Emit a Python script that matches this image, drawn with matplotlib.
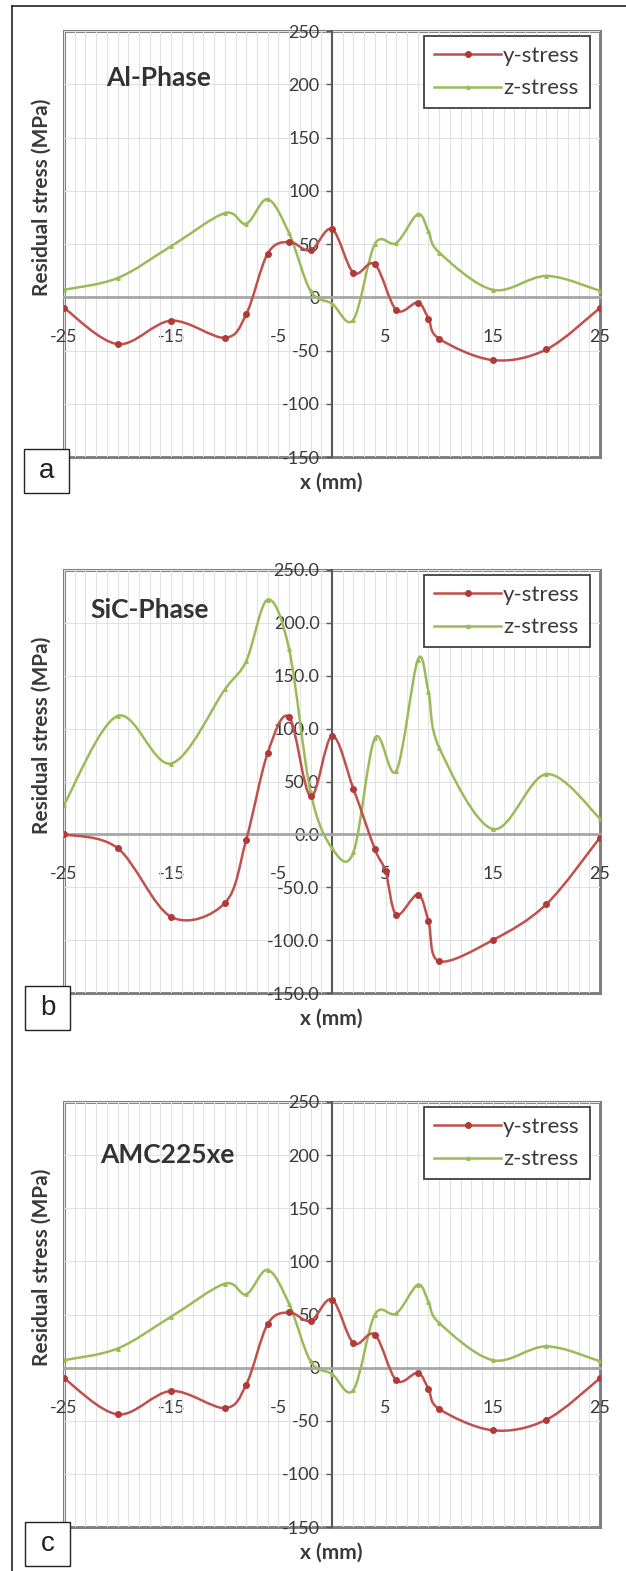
import numpy as np
import matplotlib.pyplot as plt
from matplotlib.path import Path
from matplotlib.patches import PathPatch, Rectangle
from matplotlib.lines import Line2D
from matplotlib.ticker import MultipleLocator, FormatStrFormatter

plt.rcParams['axes.unicode_minus'] = False

# measurement positions (mm)
x_pos = [-25, -20, -15, -10, -8, -6, -4, -2, 0, 2, 4, 6, 8, 9, 10, 15, 20, 25]
x_pos_sic = [-25, -20, -15, -10, -8, -6, -4, -2, 0, 2, 4, 5, 6, 8, 9, 10, 15, 20, 25]

# residual stress (MPa)
al_y = [-10, -44, -22, -38, -16, 41, 52, 44, 64, 23, 31, -12, -5, -20, -39, -59, -49, -10]
al_z = [7, 18, 48, 79, 69, 92, 60, 6, -6, -21, 50, 51, 78, 62, 42, 7, 20, 6]

sic_y = [0, -13, -78, -65, -5, 77, 111, 36, 93, 43, -14, -35, -76, -57, -82, -120, -100, -66, -3]
sic_z = [28, 112, 67, 137, 164, 222, 175, 40, -13, -17, 91, 60, 165, 135, 82, 5, 57, 15]

amc_y = [-10, -44, -22, -38, -16, 41, 52, 44, 64, 23, 31, -12, -5, -20, -39, -59, -49, -10]
amc_z = [7, 18, 48, 79, 69, 92, 60, 6, -6, -21, 50, 51, 78, 62, 42, 7, 20, 6]

panel_names = ['Al-Phase', 'SiC-Phase', 'AMC225xe']
panel_letters = ['a', 'b', 'c']
x_ticks = [-25, -15, -5, 5, 15, 25]
y_ticks = [-150, -100, -50, 0, 50, 100, 150, 200, 250]

RED = '#c0504d'
GREEN = '#9bbb59'
TXT = '#3a3a3a'


def smooth_path(x, y):
    # Excel-style smoothed line: cubic Bezier through the data points
    pts = np.column_stack([x, y]).astype(float)
    n = len(pts)
    verts = [pts[0]]
    codes = [Path.MOVETO]
    for i in range(n - 1):
        p0 = pts[i - 1] if i > 0 else pts[i]
        p1 = pts[i]
        p2 = pts[i + 1]
        p3 = pts[i + 2] if i + 2 < n else pts[i + 1]
        verts += [p1 + (p2 - p0) / 6, p2 - (p3 - p1) / 6, p2]
        codes += [Path.CURVE4] * 3
    return Path(verts, codes)


fig = plt.figure(figsize=(6.26, 15.71), dpi=100)

# panel geometry in pixels: (top, bottom) of plot area
rows = [(31, 457), (570, 993), (1102, 1527)]
title_pos = [(0.078, 0.890), (0.050, 0.905), (0.067, 0.875)]
letter_box = [(24, 449), (25, 986), (25, 1522)]
H = 1571.0
W = 626.0

series = [
    (x_pos, al_y, x_pos, al_z),
    (x_pos_sic, sic_y, x_pos, sic_z),
    (x_pos, amc_y, x_pos, amc_z),
]

for k in range(3):
    top, bot = rows[k]
    ax = fig.add_axes([64 / W, 1 - bot / H, 536 / W, (bot - top) / H])
    xr, yr, xg, yg = series[k]

    ax.set_xlim(-25, 25)
    ax.set_ylim(-150, 250)

    # curves
    ax.add_patch(PathPatch(smooth_path(xg, yg), facecolor='none', edgecolor=GREEN, lw=1.8, zorder=3))
    ax.plot(xg, yg, linestyle='none', marker='^', ms=2.5, color=GREEN, zorder=4)
    ax.add_patch(PathPatch(smooth_path(xr, yr), facecolor='none', edgecolor=RED, lw=1.8, zorder=3))
    ax.plot(xr, yr, linestyle='none', marker='o', ms=4, color='#b03a38', zorder=4)

    # axes crossing at zero, frame drawn by the patch
    ax.spines['left'].set_position(('data', 0))
    ax.spines['bottom'].set_position(('data', 0))
    ax.spines['top'].set_visible(False)
    ax.spines['right'].set_visible(False)
    ax.spines['left'].set_color('#595959')
    ax.spines['left'].set_linewidth(1.5)
    ax.spines['bottom'].set_color('#a6a6a6')
    ax.spines['bottom'].set_linewidth(2)
    ax.patch.set_edgecolor('#808080')
    ax.patch.set_linewidth(2.2)

    ax.set_xticks(x_ticks)
    ax.xaxis.set_minor_locator(MultipleLocator(1))
    ax.set_yticks(y_ticks)
    if k == 1:
        ax.yaxis.set_major_formatter(FormatStrFormatter('%.1f'))
    ax.tick_params(axis='x', which='both', length=0, pad=23, labelsize=13, labelcolor=TXT)
    ax.tick_params(axis='y', direction='out', length=4, width=1, color='#595959',
                   pad=5, labelsize=13, labelcolor=TXT)
    for lab in ax.get_xticklabels() + ax.get_yticklabels():
        lab.set_family('Lato')

    ax.set_axisbelow(True)
    ax.grid(True, axis='x', which='both', color='#e2e2e2', lw=0.8)
    ax.grid(True, axis='y', which='major', color='#e2e2e2', lw=0.8)

    ax.text(title_pos[k][0], title_pos[k][1], panel_names[k], transform=ax.transAxes,
            ha='left', va='center', fontsize=19, fontweight='bold', family='Lato', color='#333333')
    ax.text(0.498, -0.06, 'x (mm)', transform=ax.transAxes, ha='center', va='center',
            fontsize=15, fontweight='bold', family='Lato', color=TXT)
    ax.text(-0.041, 0.61, 'Residual stress (MPa)', transform=ax.transAxes, rotation=90,
            ha='center', va='center', fontsize=15, fontweight='bold', family='Lato', color=TXT)

    handles = [
        Line2D([], [], color=RED, lw=1.8, marker='o', ms=4, mfc='#b03a38', mec='#b03a38'),
        Line2D([], [], color=GREEN, lw=1.8, marker='^', ms=2.5),
    ]
    leg = ax.legend(handles, ['y-stress', 'z-stress'], loc='upper right',
                    bbox_to_anchor=(0.981, 0.988), borderaxespad=0, fancybox=False,
                    framealpha=1, edgecolor='#404040', handlelength=3.0, handletextpad=0.1,
                    labelspacing=0.55, borderpad=0.45, prop={'family': 'Lato', 'size': 16})
    leg.get_frame().set_linewidth(1.3)
    for t in leg.get_texts():
        t.set_color(TXT)

    # panel letter box
    bx, by = letter_box[k]
    fig.add_artist(Rectangle((bx / W, 1 - (by + 44) / H), 45 / W, 44 / H,
                             transform=fig.transFigure, facecolor='white',
                             edgecolor='#222222', lw=1.0, zorder=10))
    fig.text((bx + 22.5) / W, 1 - (by + 22) / H, panel_letters[k], ha='center', va='center',
             fontsize=20, family='Liberation Sans', color='#222222', zorder=11)

# outer figure frame (left and top)
fig.add_artist(Line2D([12 / W, 12 / W], [0, 1 - 6 / H], transform=fig.transFigure, color='#222222', lw=1.2))
fig.add_artist(Line2D([12 / W, 1], [1 - 6 / H, 1 - 6 / H], transform=fig.transFigure, color='#222222', lw=1.2))

fig.savefig('out.png', dpi=100)
